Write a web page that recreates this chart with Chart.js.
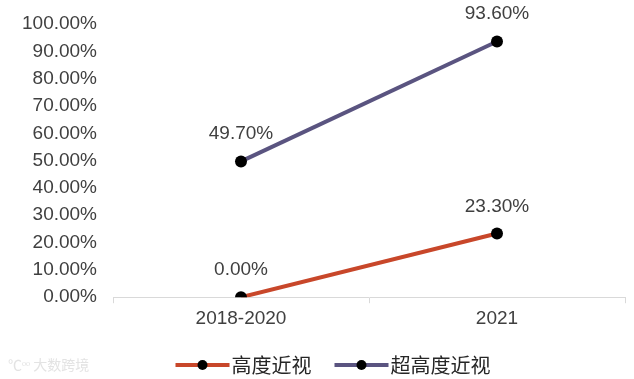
<!DOCTYPE html>
<html><head><meta charset="utf-8">
<script src="https://cdn.jsdelivr.net/npm/chart.js@4"></script>
<style>
html,body{margin:0;padding:0;background:#fff;}
#wrap{position:relative;width:634px;height:379px;}
#wm{position:absolute;left:8px;top:354px;font:14px "Noto Sans CJK SC";color:#e3e3e3;}
</style></head>
<body><div id="wrap"><canvas id="c" width="634" height="379"></canvas><div id="wm">℃ᵒᵒ 大数跨境</div></div>
<script>
const categories = ["2018-2020", "2021"];
const seriesNames = ["高度近视", "超高度近视"];
const highMyopia = [0.0, 23.3];
const superHighMyopia = [49.7, 93.6];
const yTicks = [0,10,20,30,40,50,60,70,80,90,100];
const colors = ["#C8472A", "#5A5480"];
const FONT = '"Liberation Sans", Arial, sans-serif';

function legendIcon(color){
  const c = document.createElement('canvas');
  c.width = 100; c.height = 14;
  const x = c.getContext('2d');
  const a = 33.5;
  x.strokeStyle = color; x.lineWidth = 4;
  x.beginPath(); x.moveTo(a,7); x.lineTo(a+54,7); x.stroke();
  x.fillStyle = '#000'; x.beginPath(); x.arc(a+27,7,5,0,Math.PI*2); x.fill();
  return c;
}

const labelPlugin = {
  id:'dl',
  afterLayout(chart){
    chart.legend.left += 14; chart.legend.right += 14;
  },
  afterDatasetsDraw(chart){
    const ctx = chart.ctx;
    ctx.save();
    ctx.font = '19px ' + FONT;
    ctx.fillStyle = '#404040';
    ctx.textAlign = 'center';
    ctx.textBaseline = 'alphabetic';
    chart.data.datasets.forEach((ds,i)=>{
      chart.getDatasetMeta(i).data.forEach((pt,j)=>{
        ctx.fillText(ds.data[j].toFixed(2)+'%', pt.x, pt.y-22);
      });
    });
    ctx.restore();
  }
};

new Chart(document.getElementById('c'), {
  type:'line',
  data:{
    labels: categories,
    datasets:[
      {label: seriesNames[0], data: highMyopia, borderColor: colors[0], borderWidth:4,
       pointRadius:6, pointHoverRadius:6, pointBackgroundColor:'#000', pointBorderColor:'#000', pointBorderWidth:0},
      {label: seriesNames[1], data: superHighMyopia, borderColor: colors[1], borderWidth:4,
       pointRadius:6, pointHoverRadius:6, pointBackgroundColor:'#000', pointBorderColor:'#000', pointBorderWidth:0}
    ]
  },
  options:{
    responsive:false, animation:false,
    layout:{padding:{top:24, right:9, bottom:-6, left:0}},
    plugins:{
      tooltip:{enabled:false},
      legend:{position:'bottom', labels:{
        font:{size:20, family:'"Noto Sans CJK SC", sans-serif'}, color:'#262626',
        usePointStyle:true, pointStyleWidth:59, boxHeight:14, padding:10,
        generateLabels(chart){
          return chart.data.datasets.map((ds,i)=>({text:ds.label, pointStyle:legendIcon(colors[i]), fillStyle:colors[i], strokeStyle:colors[i], lineWidth:0, datasetIndex:i, hidden:false, fontColor:'#262626'}));
        }
      }}
    },
    scales:{
      x:{offset:true,
        afterFit(s){ s.height += 11; },
        grid:{offset:true, drawOnChartArea:false, drawTicks:true, tickLength:6, color:'#d9d9d9'},
        border:{display:true, color:'#d9d9d9', width:1},
        ticks:{font:{size:19, family:FONT}, color:'#404040', padding:4}
      },
      y:{min:0, max:100,
        afterFit(s){ s.width = 113; },
        grid:{display:false}, border:{display:false},
        afterBuildTicks(s){ s.ticks = yTicks.map(v=>({value:v})); },
        ticks:{font:{size:19, family:FONT}, color:'#404040', padding:8,
          callback:v=>v.toFixed(2)+'%'}
      }
    }
  },
  plugins:[labelPlugin]
});
</script></body></html>
